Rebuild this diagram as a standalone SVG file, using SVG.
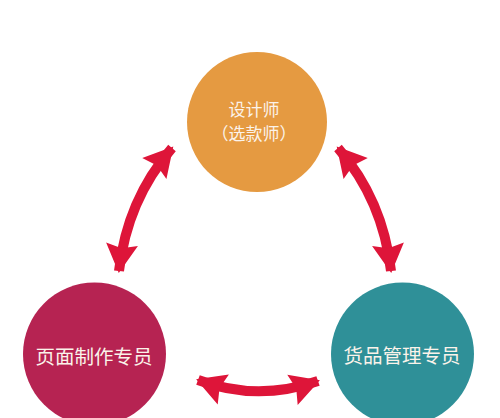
<svg xmlns="http://www.w3.org/2000/svg" width="500" height="418" viewBox="0 0 500 418">
<style>
.lbl{font-family:"Noto Sans CJK SC","Noto Sans",sans-serif;fill:#fbf3ea;text-anchor:middle;dominant-baseline:central}
.arr{fill:none;stroke:#de1539;stroke-width:10;stroke-linecap:butt}
</style>
<defs>
<marker id="head" markerUnits="userSpaceOnUse" viewBox="-2 -19 36 38" markerWidth="36" markerHeight="38" refX="27" refY="0" orient="auto-start-reverse">
<path d="M0,-16 L29,0 L0,16 L4,0 z" fill="#de1539"/>
</marker>
</defs>
<rect width="500" height="418" fill="#ffffff"/>
<g id="connectors">
<path class="arr" d="M119,271 Q127,200 172,148" marker-start="url(#head)" marker-end="url(#head)"/>
<path class="arr" d="M338,148 Q383,200 391,271" marker-start="url(#head)" marker-end="url(#head)"/>
<path class="arr" d="M198,380 Q257,402 318,381" marker-start="url(#head)" marker-end="url(#head)"/>
</g>
<g id="designer">
<circle cx="257" cy="122" r="70" fill="#e59a41"/>
<text class="lbl" x="254" y="108" font-size="17">设计师</text>
<text class="lbl" x="254" y="132" font-size="17">（选款师）</text>
</g>
<g id="page-maker">
<circle cx="94.5" cy="354" r="71.5" fill="#b62352"/>
<text class="lbl" x="94" y="355" font-size="19.5">页面制作专员</text>
</g>
<g id="goods-manager">
<circle cx="402.5" cy="354" r="71.5" fill="#2f9098"/>
<text class="lbl" x="402" y="354" font-size="19.5">货品管理专员</text>
</g>
</svg>
